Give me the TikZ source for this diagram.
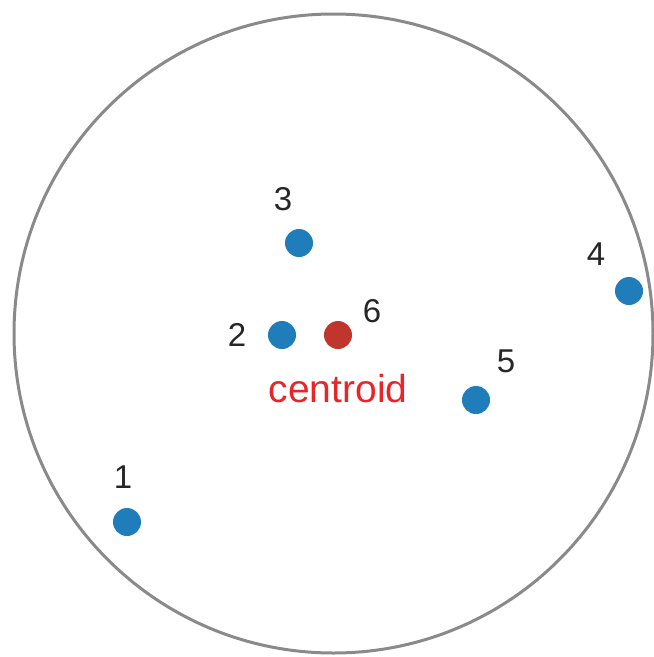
\documentclass[tikz,border=0pt]{standalone}
\usepackage{fontspec}
\setmainfont{Liberation Sans}
\definecolor{dotblue}{RGB}{31,125,185}
\definecolor{dotred}{RGB}{192,54,44}
\definecolor{labred}{RGB}{232,38,42}
\definecolor{ringgray}{RGB}{138,138,140}
\begin{document}
\begin{tikzpicture}[x=1pt,y=-1pt,
  dotpt/.style={circle,fill=dotblue,minimum size=28pt,inner sep=0pt},
  centpt/.style={circle,fill=dotred,minimum size=28pt,inner sep=0pt},
  numlab/.style={font=\fontsize{33}{33}\selectfont,text=black!85,inner sep=0pt}]
\useasboundingbox (0,0) rectangle (654,657);
\node[draw=ringgray,line width=3pt,circle,minimum size=639pt,inner sep=0pt] (ring) at (333.5,333.5) {};
\node[dotpt] (p1) at (127,522) {};
\node[dotpt] (p2) at (282,335) {};
\node[dotpt] (p3) at (299,243) {};
\node[dotpt] (p4) at (629,291) {};
\node[dotpt] (p5) at (476,400) {};
\node[centpt] (p6) at (338,335) {};
\node[numlab] (l1) at (123,477) {1};
\node[numlab] (l2) at (237,335) {2};
\node[numlab] (l3) at (283,199) {3};
\node[numlab] (l4) at (596,254) {4};
\node[numlab] (l5) at (506,361) {5};
\node[numlab] (l6) at (372,311) {6};
\node[font=\fontsize{39}{39}\selectfont,text=labred,inner sep=0pt,anchor=base] (cl) at (338,402) {centroid};
\end{tikzpicture}
\end{document}
